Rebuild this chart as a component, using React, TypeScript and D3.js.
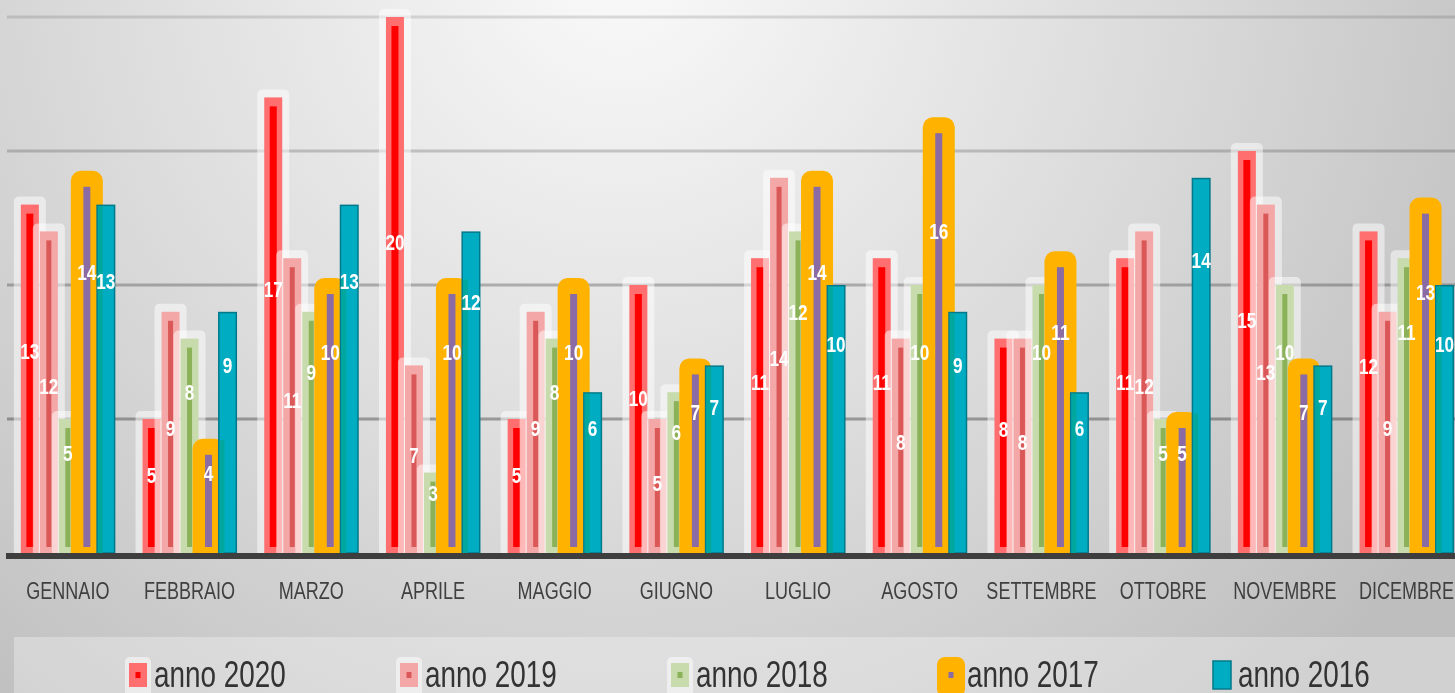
import React from 'react';
import * as d3 from 'd3';

// ---- data ----
const months = ['GENNAIO', 'FEBBRAIO', 'MARZO', 'APRILE', 'MAGGIO', 'GIUGNO', 'LUGLIO', 'AGOSTO', 'SETTEMBRE', 'OTTOBRE', 'NOVEMBRE', 'DICEMBRE'];
const seriesNames = ['anno 2020', 'anno 2019', 'anno 2018', 'anno 2017', 'anno 2016'];
const anno2020 = [13, 5, 17, 20, 5, 10, 11, 11, 8, 11, 15, 12];
const anno2019 = [12, 9, 11, 7, 9, 5, 14, 8, 8, 12, 13, 9];
const anno2018 = [5, 8, 9, 3, 8, 6, 12, 10, 10, 5, 10, 11];
const anno2017 = [14, 4, 10, 10, 10, 7, 14, 16, 11, 5, 7, 13];
const anno2016 = [13, 9, 13, 12, 6, 7, 10, 9, 6, 14, 7, 10];
const yTicks = [5, 10, 15, 20];

const seriesValues = [anno2020, anno2019, anno2018, anno2017, anno2016];

// look of each series (glow, fill, inner stripe)
const looks = [
  { halo: 'rgba(255,255,255,0.5)', haloW: 32, haloUp: 8, haloR: 5, fill: '#FF6F6F', fillW: 18, stripe: '#FF0000', stripeW: 7, labelAt: 0.42 },
  { halo: 'rgba(255,255,255,0.5)', haloW: 32, haloUp: 8, haloR: 5, fill: '#F4A7A7', fillW: 18, stripe: '#DB5858', stripeW: 5, labelAt: 0.48 },
  { halo: 'rgba(255,255,255,0.5)', haloW: 32, haloUp: 8, haloR: 5, fill: '#C8DBAD', fillW: 18, stripe: '#8BB159', stripeW: 5, labelAt: 0.25 },
  { halo: '#FFB300', haloW: 32, haloUp: 7, haloR: 10, fill: null, fillW: 0, stripe: '#8B6BA3', stripeW: 7, labelAt: 0.25 },
  { halo: null, haloW: 0, haloUp: 0, haloR: 0, fill: '#00ACC2', fillW: 19, stripe: null, stripeW: 0, labelAt: 0.22 },
];

const W = 1455;
const H = 693;
// Arial-like face squeezed horizontally to look like a narrow font
const FONT = "'Liberation Sans', Arial, sans-serif";
const NARROW = 0.82;

const baseY = 553;
const x = d3.scaleBand<string>().domain(months).range([7, 7 + 12 * 121.7]);
const inner = d3.scaleBand<string>().domain(seriesNames).range([-47.5, 47.5]);
const y = d3.scaleLinear().domain([0, 20]).range([baseY, 17]);
const legendX = d3.scalePoint<string>().domain(seriesNames).range([138, 1222]);

const centerOf = (mi: number, si: number) =>
  (x(months[mi]) as number) + x.bandwidth() / 2 + (inner(seriesNames[si]) as number) + inner.bandwidth() / 2;

// rectangle with rounded top corners only
function topRounded(x0: number, y0: number, w: number, h: number, r: number) {
  const rr = Math.min(r, w / 2, h);
  const p = d3.path();
  p.moveTo(x0, y0 + h);
  p.lineTo(x0, y0 + rr);
  p.arcTo(x0, y0, x0 + rr, y0, rr);
  p.lineTo(x0 + w - rr, y0);
  p.arcTo(x0 + w, y0, x0 + w, y0 + rr, rr);
  p.lineTo(x0 + w, y0 + h);
  p.closePath();
  return p.toString();
}

export default function App() {
  return (
    <div style={{ position: 'fixed', left: 0, top: 0, width: W, height: H, overflow: 'hidden' }}>
      <svg width={W} height={H} style={{ display: 'block' }}>
        <defs>
          <radialGradient id="bg" gradientUnits="userSpaceOnUse" cx={620} cy={-40} r={1000}>
            <stop offset="0" stopColor="#FAFAFA" />
            <stop offset="0.55" stopColor="#DADADA" />
            <stop offset="1" stopColor="#BEBEBE" />
          </radialGradient>
        </defs>
        <rect width={W} height={H} fill="url(#bg)" />

        {/* grid */}
        {yTicks.map(t => (
          <line key={t} x1={7} x2={1470} y1={y(t)} y2={y(t)} stroke="#000" strokeOpacity={0.38 - 0.013 * t} strokeWidth={3} />
        ))}

        {/* bars */}
        {seriesNames.map((s, si) => {
          const lk = looks[si];
          return (
            <g key={s}>
              {seriesValues[si].map((v, mi) => {
                const cx = centerOf(mi, si);
                const top = y(v);
                if (si === 4) {
                  // teal bar, a little greener where it sits over the orange one
                  const prev = looks[3];
                  const oRight = centerOf(mi, 3) + prev.haloW / 2;
                  const oTop = y(anno2017[mi]) - prev.haloUp;
                  const left = cx - lk.fillW / 2;
                  const ovTop = Math.max(top, oTop);
                  return (
                    <g key={mi}>
                      <rect x={left + 0.75} y={top + 0.75} width={lk.fillW - 1.5} height={baseY - top - 0.75}
                        fill={lk.fill as string} stroke="#00798B" strokeWidth={1.5} />
                      {oRight > left + 1.5 && (
                        <rect x={left + 1.5} y={ovTop + 1.5} width={oRight - left - 1.5} height={Math.max(0, baseY - ovTop - 1.5)} fill="#00A79E" />
                      )}
                    </g>
                  );
                }
                return (
                  <g key={mi}>
                    {lk.halo && (
                      <path d={topRounded(cx - lk.haloW / 2, top - lk.haloUp, lk.haloW, baseY - top + lk.haloUp, lk.haloR)} fill={lk.halo} />
                    )}
                    {lk.fill && (
                      <rect x={cx - lk.fillW / 2} y={top} width={lk.fillW} height={baseY - top} fill={lk.fill} />
                    )}
                    {lk.stripe && (
                      <rect x={cx - lk.stripeW / 2} y={top + 9} width={lk.stripeW} height={Math.max(0, baseY - 6 - top - 9)} fill={lk.stripe} />
                    )}
                  </g>
                );
              })}
            </g>
          );
        })}

        {/* value labels */}
        {seriesNames.map((s, si) => (
          <g key={'l' + s}>
            {seriesValues[si].map((v, mi) => {
              const cx = centerOf(mi, si);
              const top = y(v);
              const ly = top + looks[si].labelAt * (baseY - top) + 8;
              return (
                <text key={mi} transform={`translate(${cx},${ly}) scale(${NARROW},1.05)`} textAnchor="middle"
                  fontFamily={FONT} fontWeight="bold" fontSize={21} fill="#FFFFFF">
                  {v}
                </text>
              );
            })}
          </g>
        ))}

        {/* axis */}
        <line x1={6} x2={1470} y1={baseY + 3} y2={baseY + 3} stroke="#3E3E3E" strokeWidth={6} />
        {months.map(m => (
          <text key={m} transform={`translate(${(x(m) as number) + x.bandwidth() / 2},599) scale(${NARROW},1.08)`} textAnchor="middle"
            fontFamily={FONT} fontSize={22} fill="#404040">
            {m}
          </text>
        ))}

        {/* legend */}
        <rect x={14} y={637} width={1460} height={70} fill="#FFFFFF" fillOpacity={0.3} />
        {seriesNames.map((s, si) => {
          const lx = legendX(s) as number;
          const lk = looks[si];
          return (
            <g key={'lg' + s}>
              {si < 3 && <rect x={lx - 13} y={657} width={26} height={40} rx={5} fill="rgba(255,255,255,0.5)" />}
              {si < 3 && <rect x={lx - 9} y={663} width={18} height={24} fill={lk.fill as string} />}
              {si === 3 && <rect x={lx - 14} y={657} width={28} height={40} rx={8} fill="#FFB300" />}
              {si === 4 && <rect x={lx - 9} y={661} width={18} height={28} fill="#00ACC2" stroke="#00798B" strokeWidth={1.5} />}
              {lk.stripe && <rect x={lx - 2.5} y={672} width={5} height={6} fill={lk.stripe} />}
              <text transform={`translate(${lx + 16},687) scale(${NARROW},1.08)`} fontFamily={FONT} fontSize={34} fill="#333333">
                {s}
              </text>
            </g>
          );
        })}
      </svg>
    </div>
  );
}
